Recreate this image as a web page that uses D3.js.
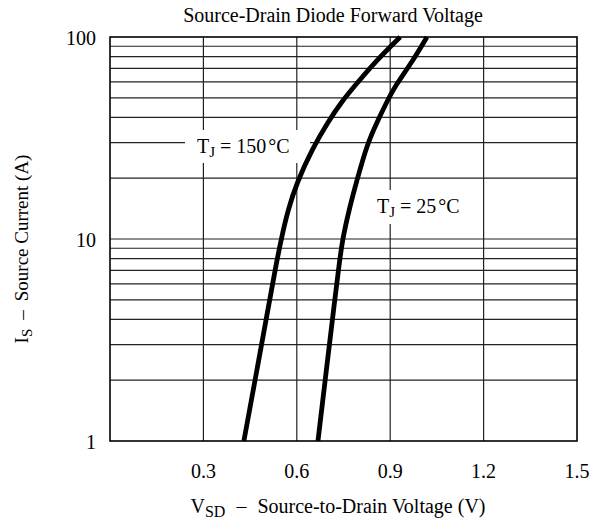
<!DOCTYPE html>
<html>
<head>
<meta charset="utf-8">
<script src="https://cdn.jsdelivr.net/npm/d3@7"></script>
<style>
  body { margin: 0; background: #fff; }
  text { font-family: "Liberation Serif", "DejaVu Serif", serif; fill: #000; }
</style>
</head>
<body>
<div id="chart"></div>
<script>
// Courant de source (A) et tension VSD (V)
const current150 = [1, 2, 5, 7.4, 10, 14, 19, 28, 38, 48, 57, 75, 100];
const vsd150 = [0.43, 0.466, 0.513, 0.533, 0.55, 0.572, 0.60, 0.65, 0.70, 0.745, 0.785, 0.85, 0.932];
const current25 = [1, 2, 5, 7.5, 10, 14, 19.5, 29.5, 38, 48, 57, 75, 100];
const vsd25 = [0.668, 0.691, 0.722, 0.736, 0.747, 0.768, 0.793, 0.826, 0.858, 0.89, 0.915, 0.97, 1.018];

const xTicks = [0.3, 0.6, 0.9, 1.2, 1.5];
const yTicks = [1, 10, 100];
const yGrid = [2, 3, 4, 5, 6, 7, 8, 9, 10, 20, 30, 40, 50, 60, 70, 80, 90];

const width = 598, height = 527;
const margin = { top: 37, right: 21, bottom: 86, left: 110 };

const svg = d3.select('#chart').append('svg')
  .attr('width', width)
  .attr('height', height);

const x = d3.scaleLinear().domain([0, 1.5]).range([margin.left, width - margin.right]);
const y = d3.scaleLog().domain([1, 100]).range([height - margin.bottom, margin.top]);

// Grille
const grid = svg.append('g').attr('stroke', '#222').attr('stroke-width', 1.2);
grid.selectAll('line.h').data(yGrid).enter().append('line')
  .attr('x1', x(0)).attr('x2', x(1.5))
  .attr('y1', d => y(d)).attr('y2', d => y(d));
grid.selectAll('line.v').data(xTicks.slice(0, -1)).enter().append('line')
  .attr('x1', d => x(d)).attr('x2', d => x(d))
  .attr('y1', y(1)).attr('y2', y(100));

// Cadre
svg.append('rect')
  .attr('x', x(0)).attr('y', y(100))
  .attr('width', x(1.5) - x(0)).attr('height', y(1) - y(100))
  .attr('fill', 'none').attr('stroke', '#000').attr('stroke-width', 1.6);

// Fonds blancs des étiquettes
svg.append('rect').attr('x', 185).attr('y', 130).attr('width', 125).attr('height', 33).attr('fill', '#fff');
svg.append('rect').attr('x', 372).attr('y', 190).attr('width', 98).attr('height', 34).attr('fill', '#fff');

// Courbes
const line = d3.line()
  .x(d => x(d[0]))
  .y(d => y(d[1]))
  .curve(d3.curveBasis);

[[vsd150, current150], [vsd25, current25]].forEach(([v, c]) => {
  svg.append('path')
    .datum(v.map((d, i) => [d, c[i]]))
    .attr('d', line)
    .attr('fill', 'none')
    .attr('stroke', '#000')
    .attr('stroke-width', 4.8)
    .attr('stroke-linejoin', 'round');
});

// Étiquettes des courbes
function tjLabel(px, py, temp) {
  const t = svg.append('text').attr('x', px).attr('y', py).style('font-size', '20px');
  t.append('tspan').text('T');
  t.append('tspan').attr('dy', 4).style('font-size', '15px').text('J');
  t.append('tspan').attr('dy', -4).attr('dx', 5).text('=');
  t.append('tspan').attr('dx', 5).text(temp);
  t.append('tspan').attr('dx', 2).text('\u00B0C');
}
tjLabel(197, 153, 150);
tjLabel(377, 213, 25);

// Axes
xTicks.forEach(v => {
  svg.append('text').attr('x', x(v)).attr('y', 478)
    .attr('text-anchor', 'middle').style('font-size', '20px').text(v.toFixed(1));
});
yTicks.forEach(v => {
  svg.append('text').attr('x', 96).attr('y', y(v) + 8)
    .attr('text-anchor', 'end').style('font-size', '20px').text(v);
});

// Titres
svg.append('text').attr('x', 333).attr('y', 22)
  .attr('text-anchor', 'middle').style('font-size', '20px')
  .text('Source-Drain Diode Forward Voltage');

const xt = svg.append('text').attr('x', 338).attr('y', 513)
  .attr('text-anchor', 'middle').style('font-size', '20px');
xt.append('tspan').text('V');
xt.append('tspan').attr('dy', 4).style('font-size', '16px').text('SD');
xt.append('tspan').attr('dy', -4).attr('dx', 11).text('\u2013');
xt.append('tspan').attr('dx', 11).text('Source-to-Drain Voltage (V)');

const yt = svg.append('text')
  .attr('transform', 'translate(28,249) rotate(-90)')
  .attr('text-anchor', 'middle').style('font-size', '19px');
yt.append('tspan').text('I');
yt.append('tspan').attr('dy', 4).style('font-size', '15px').text('S');
yt.append('tspan').attr('dy', -4).attr('dx', 9).text('\u2013');
yt.append('tspan').attr('dx', 9).text('Source Current (A)');
</script>
</body>
</html>
